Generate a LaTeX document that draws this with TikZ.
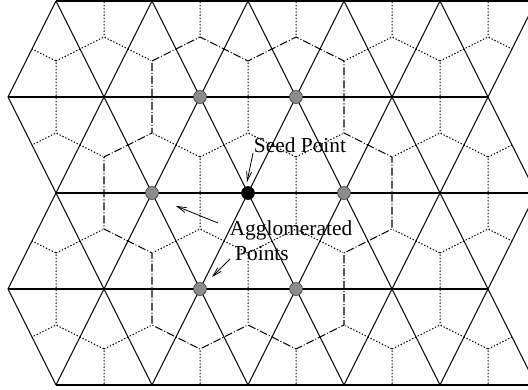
\documentclass[tikz,border=0pt]{standalone}
\usepackage{fontspec}
\setmainfont{Liberation Serif}
\usetikzlibrary{arrows.meta}
\begin{document}
\begin{tikzpicture}[x=1pt,y=-1pt,
  lattice/.style={line width=1.1pt, black},
  voronoi/.style={line width=1pt, black, dash pattern=on 1.4pt off 1.8pt},
  agglo/.style={line width=1.1pt, black, dash pattern=on 8pt off 2pt on 1pt off 2pt},
  eraser/.style={line width=2.6pt, white},
  gpoint/.style={circle, fill=black!45, draw=black!75, line width=0.6pt, minimum size=13pt, inner sep=0pt},
  spoint/.style={circle, fill=black, draw=black, line width=0.6pt, minimum size=13pt, inner sep=0pt},
  lbl/.style={font=\fontsize{21.4}{25}\selectfont, inner sep=0pt},
  pointer/.style={line width=0.8pt, -{Straight Barb[length=9pt,width=5pt]}}
]
\useasboundingbox (0,0) rectangle (528,389);
\clip (0,0) rectangle (528,389);

% lattice points
\foreach \r in {0,...,4}{
  \foreach \k in {0,...,5}{
    \pgfmathsetmacro{\xx}{56-48*mod(\r,2)+96*\k}
    \pgfmathsetmacro{\yy}{1+96*\r}
    \coordinate (p-\r-\k) at (\xx,\yy);
  }
}

% dual (Voronoi) cells, clipped to the triangulated region
\begin{scope}
  \clip (p-0-0) -- (p-0-5) -- (p-1-5) -- (p-2-5) -- (p-3-5) -- (p-4-5)
        -- (p-4-0) -- (p-3-0) -- (p-2-0) -- (p-1-0) -- cycle;
  \foreach \r in {-1,...,5}{
    \foreach \k in {-1,...,6}{
      \pgfmathsetmacro{\cx}{56-48*mod(\r+2,2)+96*\k}
      \pgfmathsetmacro{\cy}{1+96*\r}
      \draw[voronoi] (\cx-48,\cy-36) -- (\cx,\cy-60) -- (\cx+48,\cy-36) -- (\cx+48,\cy+36);
    }
  }
\end{scope}

% agglomerated region outline path
\def\aggpath{(152,61) -- (200,37) -- (248,61) -- (296,37) -- (344,61) -- (344,133)
  -- (392,157) -- (392,229) -- (344,253) -- (344,325) -- (296,349) -- (248,325)
  -- (200,349) -- (152,325) -- (152,253) -- (104,229) -- (104,157) -- (152,133) -- cycle}
\draw[eraser] \aggpath;

% triangular lattice
\foreach \r in {0,...,4}{
  \draw[lattice] (p-\r-0) -- (p-\r-5);
}
\foreach \o/\ea/\eb in {1/0/2, 3/2/4}{
  \foreach \k in {0,...,5}{
    \draw[lattice] (p-\ea-\k) -- (p-\o-\k) -- (p-\eb-\k);
  }
  \foreach \k [evaluate=\k as \kk using int(\k+1)] in {0,...,4}{
    \draw[lattice] (p-\ea-\k) -- (p-\o-\kk) -- (p-\eb-\k);
  }
}

\draw[agglo] \aggpath;

% points
\node[gpoint] (g1) at (p-1-2) {};
\node[gpoint] (g2) at (p-1-3) {};
\node[gpoint] (g3) at (p-2-1) {};
\node[gpoint] (g4) at (p-2-3) {};
\node[gpoint] (g5) at (p-3-2) {};
\node[gpoint] (g6) at (p-3-3) {};
\node[spoint] (seed) at (p-2-2) {};

% labels
\node[lbl, anchor=base] (seedlbl) at (300,152) {Seed Point};
\node[lbl, anchor=base] (agglbl) at (291,235) {Agglomerated};
\node[lbl, anchor=base] (ptslbl) at (262,260) {Points};

% pointers
\coordinate (s1) at (253,153);
\coordinate (s2) at (247,182);
\coordinate (a1) at (218,223);
\coordinate (a2) at (176,206);
\coordinate (b1) at (230,259);
\coordinate (b2) at (212,277);
\draw[pointer] (s1) -- (s2);
\draw[pointer] (a1) -- (a2);
\draw[pointer] (b1) -- (b2);
\end{tikzpicture}
\end{document}
